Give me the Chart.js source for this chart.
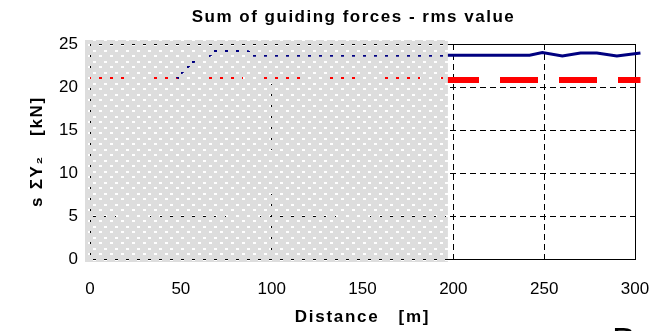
<!DOCTYPE html>
<html lang="en">
<head>
  <meta charset="UTF-8">
  <title>Sum of guiding forces - rms value</title>
  <script src="https://cdn.jsdelivr.net/npm/chart.js"></script>
  <style>
    body { margin: 0; background: #fff; }
    canvas { display: block; }
  </style>
</head>
<body>
  <canvas id="forceChart" width="654" height="331"></canvas>

  <script>
    // measured rms of the summed guiding forces along the track
    const distance = [48, 50.5, 54, 57, 63, 66, 69, 81, 87, 90, 120, 160, 200, 242, 249, 260, 270, 279, 290, 303];
    const rmsForce = [21.0, 21.7, 22.4, 22.95, 23.4, 23.7, 24.2, 24.2, 24.1, 23.7, 23.7, 23.7, 23.7, 23.7, 24.0, 23.6, 23.95, 23.95, 23.6, 23.95];

    // limit value
    const limitDistance = [0, 303];
    const limitForce = [20.8, 20.8];

    const shadeEnd = 197;   // distance where the grey run-in zone ends

    Chart.defaults.font.family = 'Arial, "Liberation Sans", sans-serif';
    Chart.defaults.color = '#000';

    const toPoints = (xs, ys) => xs.map((x, i) => ({ x: x, y: ys[i] }));

    // titles are drawn with a bit of letter spacing (main title nudged left)
    const spacedTitles = {
      id: 'spacedTitles',
      beforeDraw(chart) {
        const wrap = (obj, name, spacing, dx) => {
          if (!obj || obj[name].spaced) return;
          const orig = obj[name];
          const fn = function (...args) {
            chart.ctx.save();
            chart.ctx.letterSpacing = spacing;
            chart.ctx.translate(dx, 0);
            orig.apply(this, args);
            chart.ctx.restore();
          };
          fn.spaced = true;
          obj[name] = fn;
        };
        wrap(chart.titleBlock, 'draw', '1.5px', -9);
        wrap(chart.scales.x, 'drawTitle', '1.7px', 0);
        wrap(chart.scales.y, 'drawTitle', '1.7px', 0);
      }
    };

    // solid frame round the plot area
    const frame = {
      id: 'frame',
      beforeDatasetsDraw(chart) {
        const { ctx, chartArea: a } = chart;
        ctx.save();
        ctx.strokeStyle = '#000';
        ctx.lineWidth = 1;
        ctx.strokeRect(Math.round(a.left) + 0.5, Math.round(a.top) + 0.5,
          Math.round(a.right - a.left), Math.round(a.bottom - a.top));
        ctx.restore();
      }
    };

    // dotted grey screen over the first 200 m
    const shade = {
      id: 'shade',
      afterDraw(chart) {
        const { ctx, chartArea: a, scales: { x } } = chart;
        const tile = document.createElement('canvas');
        tile.width = 11;
        tile.height = 11;
        const t = tile.getContext('2d');
        t.fillStyle = '#dddddd';
        t.fillRect(0, 0, 11, 11);
        t.clearRect(0, 0, 3, 2);
        t.clearRect(5, 6, 3, 2);

        const left = a.left - 5;
        const right = x.getPixelForValue(shadeEnd);
        ctx.save();
        ctx.fillStyle = ctx.createPattern(tile, 'repeat');
        ctx.fillRect(left, a.top - 4, right - left, a.bottom - a.top + 7);

        // start of the next caption, cut off by the page edge
        ctx.fillStyle = '#000';
        ctx.font = '36px Arial, "Liberation Sans", sans-serif';
        ctx.textBaseline = 'alphabetic';
        ctx.fillText('B', 612, 354);
        ctx.restore();
      }
    };

    const ctx = document.getElementById('forceChart').getContext('2d');
    new Chart(ctx, {
      type: 'line',
      data: {
        datasets: [
          {
            label: 'rms',
            data: toPoints(distance, rmsForce),
            borderColor: '#000080',
            borderWidth: 3,
            pointRadius: 0,
            tension: 0,
            clip: false
          },
          {
            label: 'limit',
            data: toPoints(limitDistance, limitForce),
            borderColor: '#ff0000',
            borderWidth: 6,
            borderDash: [38, 21],
            borderDashOffset: 3,
            borderCapStyle: 'butt',
            pointRadius: 0,
            clip: false
          }
        ]
      },
      options: {
        responsive: false,
        animation: false,
        layout: { autoPadding: false, padding: { left: 0, right: 19, top: 0, bottom: 0 } },
        plugins: {
          legend: { display: false },
          tooltip: { enabled: false },
          title: {
            display: true,
            text: 'Sum of guiding forces - rms value',
            fullSize: false,
            font: { size: 17, weight: 'bold' },
            padding: { top: 7, bottom: 16.6 }
          }
        },
        scales: {
          x: {
            type: 'linear',
            min: 0,
            max: 300,
            afterFit: s => { s.height = 72; s.paddingLeft = 0; s.paddingRight = 0; },
            ticks: { stepSize: 50, font: { size: 17 }, padding: 20 },
            grid: { color: '#000', lineWidth: 1, drawTicks: false },
            border: { display: false, dash: [6, 4] },
            title: {
              display: true,
              text: 'Distance   [m]',
              font: { size: 17, weight: 'bold' },
              padding: { top: 0, bottom: 3 }
            }
          },
          y: {
            min: 0,
            max: 25,
            afterFit: s => { s.width = 90; s.paddingTop = 0; s.paddingBottom = 0; },
            ticks: { stepSize: 5, font: { size: 17 }, padding: 12 },
            grid: { color: '#000', lineWidth: 1, drawTicks: false },
            border: { display: false, dash: [6, 4] },
            title: {
              display: true,
              text: 's ΣY₂   [kN]',
              font: { size: 17, weight: 'bold' },
              padding: { top: 27, bottom: 0 }
            }
          }
        }
      },
      plugins: [spacedTitles, frame, shade]
    });
  </script>
</body>
</html>
